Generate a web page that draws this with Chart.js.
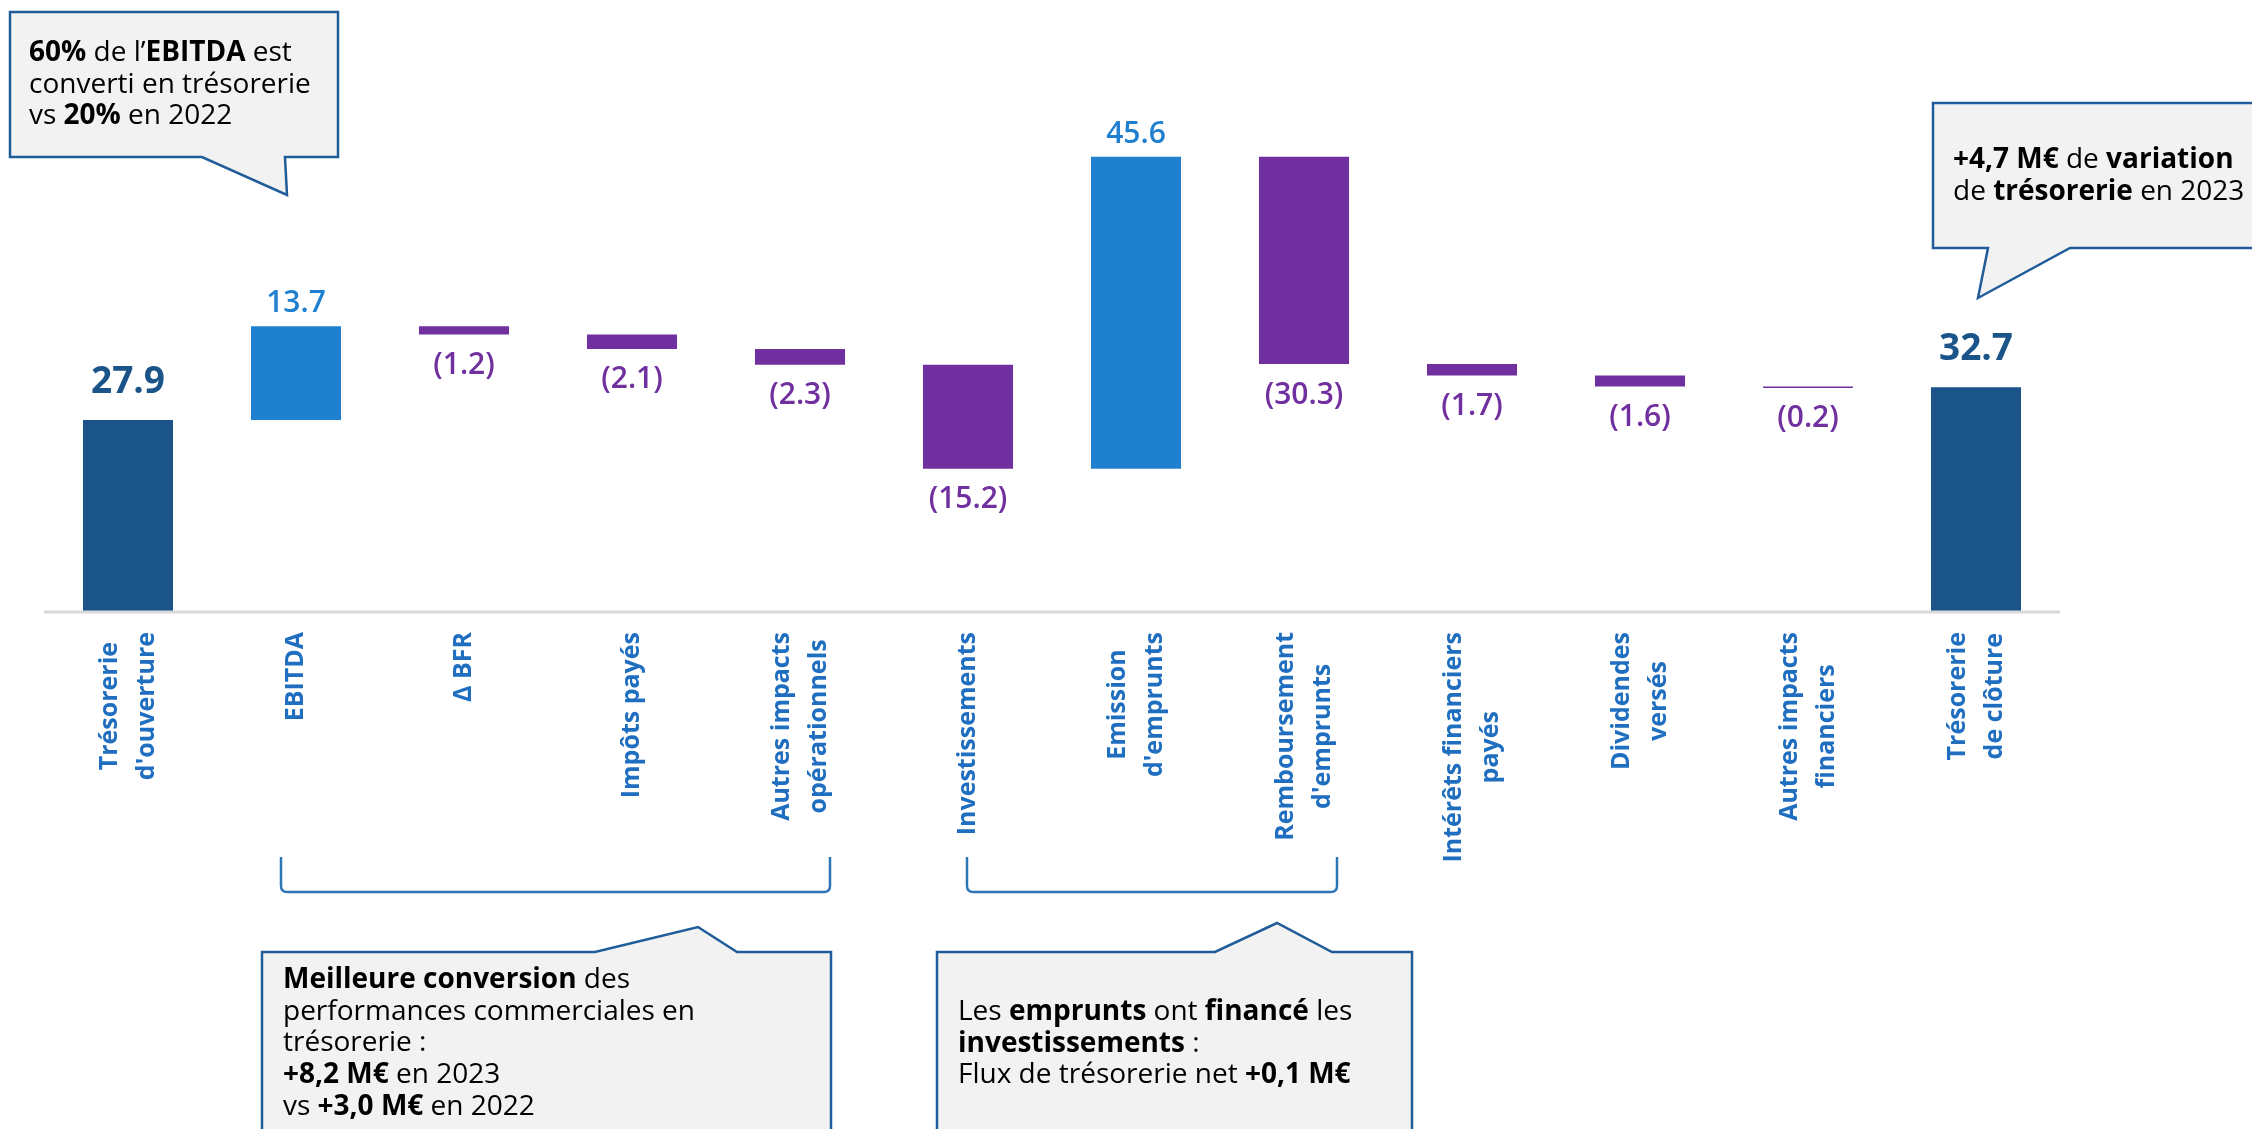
<!DOCTYPE html>
<html lang="fr">
<head>
<meta charset="utf-8">
<title>Flux de trésorerie 2023</title>
<script src="https://cdn.jsdelivr.net/npm/chart.js@4/dist/chart.umd.min.js"></script>
<style>
    html, body { margin: 0; padding: 0; background: #fff; }
    #wrap { width: 2252px; height: 1129px; position: relative; }
</style>
</head>
<body>
<div id="wrap"><canvas id="cashChart"></canvas></div>
<script>
// Data
const categories = [
    ['Trésorerie', "d'ouverture"],
    ['EBITDA'],
    ['Δ BFR'],
    ['Impôts payés'],
    ['Autres impacts', 'opérationnels'],
    ['Investissements'],
    ['Emission', "d'emprunts"],
    ['Remboursement', "d'emprunts"],
    ['Intérêts financiers', 'payés'],
    ['Dividendes', 'versés'],
    ['Autres impacts', 'financiers'],
    ['Trésorerie', 'de clôture']
];
const values = [27.9, 13.7, -1.2, -2.1, -2.3, -15.2, 45.6, -30.3, -1.7, -1.6, -0.2, 32.7];
const isTotal = [true, false, false, false, false, false, false, false, false, false, false, true];
const yMin = 0;
const yMax = 70;

// Colours
const COL_TOTAL = '#1A5488';
const COL_UP = '#2080D0';
const COL_DOWN = '#7030A0';
const COL_AXIS_TXT = '#1F6EBF';
const COL_BOX = '#1F5C99';
const FONT = '"Open Sans", "Noto Sans", sans-serif';

// Build floating ranges for the waterfall
let running = 0;
const ranges = values.map((v, i) => {
    if (isTotal[i]) {
        running = v;
        return [0, v];
    }
    const r = [running, running + v];
    running += v;
    return r;
});
const barColors = values.map((v, i) => isTotal[i] ? COL_TOTAL : (v >= 0 ? COL_UP : COL_DOWN));

// Callout texts: each line is a list of [text, bold]
const calloutTopLeft = [
    [['60%', true], [' de l’', false], ['EBITDA', true], [' est', false]],
    [['converti en trésorerie', false]],
    [['vs ', false], ['20%', true], [' en 2022', false]]
];
const calloutTopRight = [
    [['+4,7 M€', true], [' de ', false], ['variation', true]],
    [['de ', false], ['trésorerie', true], [' en 2023', false]]
];
const calloutOps = [
    [['Meilleure conversion', true], [' des', false]],
    [['performances commerciales en', false]],
    [['trésorerie :', false]],
    [['+8,2 M€', true], [' en 2023', false]],
    [['vs ', false], ['+3,0 M€', true], [' en 2022', false]]
];
const calloutLoans = [
    [['Les ', false], ['emprunts', true], [' ont ', false], ['financé', true], [' les', false]],
    [['investissements', true], [' :', false]],
    [['Flux de trésorerie net ', false], ['+0,1 M€', true]]
];

function drawRich(ctx, lines, x, y0, lineH, size) {
    ctx.fillStyle = '#000';
    ctx.textAlign = 'left';
    ctx.textBaseline = 'alphabetic';
    lines.forEach((runs, li) => {
        let cx = x;
        runs.forEach(([t, b]) => {
            ctx.font = (b ? '700 ' : '400 ') + size + 'px ' + FONT;
            ctx.fillText(t, cx, y0 + li * lineH);
            cx += ctx.measureText(t).width;
        });
    });
}

function drawShape(ctx, pts) {
    ctx.beginPath();
    ctx.moveTo(pts[0][0], pts[0][1]);
    pts.slice(1).forEach(p => ctx.lineTo(p[0], p[1]));
    ctx.closePath();
    ctx.fillStyle = '#F2F2F2';
    ctx.fill();
    ctx.lineWidth = 2.5;
    ctx.strokeStyle = COL_BOX;
    ctx.stroke();
}

function drawBracket(ctx, x1, x2, yTop, yBot) {
    const r = 6;
    ctx.beginPath();
    ctx.moveTo(x1, yTop);
    ctx.lineTo(x1, yBot - r);
    ctx.quadraticCurveTo(x1, yBot, x1 + r, yBot);
    ctx.lineTo(x2 - r, yBot);
    ctx.quadraticCurveTo(x2, yBot, x2, yBot - r);
    ctx.lineTo(x2, yTop);
    ctx.lineWidth = 2.5;
    ctx.strokeStyle = '#2E75B6';
    ctx.stroke();
}

// Everything that is not a bar: axis line, values, category labels, callouts
const decorPlugin = {
    id: 'decor',
    afterDatasetsDraw(chart) {
        const ctx = chart.ctx;
        const xs = chart.scales.x;
        const ys = chart.scales.y;
        const area = chart.chartArea;
        const meta = chart.getDatasetMeta(0);
        ctx.save();

        // x axis line
        ctx.strokeStyle = '#D9D9D9';
        ctx.lineWidth = 3;
        ctx.beginPath();
        ctx.moveTo(area.left, area.bottom + 1);
        ctx.lineTo(area.right, area.bottom + 1);
        ctx.stroke();

        // value labels
        values.forEach((v, i) => {
            const bar = meta.data[i];
            const top = ys.getPixelForValue(Math.max(ranges[i][0], ranges[i][1]));
            const bottom = ys.getPixelForValue(Math.min(ranges[i][0], ranges[i][1]));
            ctx.textAlign = 'center';
            if (isTotal[i]) {
                ctx.font = '700 37px ' + FONT;
                ctx.fillStyle = COL_TOTAL;
                ctx.textBaseline = 'alphabetic';
                ctx.fillText(v.toFixed(1), bar.x, top - 27);
            } else if (v >= 0) {
                ctx.font = '600 30px ' + FONT;
                ctx.fillStyle = COL_UP;
                ctx.textBaseline = 'alphabetic';
                ctx.fillText(v.toFixed(1), bar.x, top - 14);
            } else {
                ctx.font = '600 30px ' + FONT;
                ctx.fillStyle = COL_DOWN;
                ctx.textBaseline = 'top';
                ctx.fillText('(' + Math.abs(v).toFixed(1) + ')', bar.x, bottom + 16);
            }
        });

        // category labels, rotated, lines centred, block starting under the axis
        const lineH = 37;
        const labelTop = area.bottom + 21;
        ctx.font = '700 25px ' + FONT;
        ctx.fillStyle = COL_AXIS_TXT;
        ctx.textAlign = 'center';
        ctx.textBaseline = 'middle';
        categories.forEach((lines, i) => {
            const cx = xs.getPixelForValue(i);
            const maxW = Math.max(...lines.map(l => ctx.measureText(l).width));
            lines.forEach((line, li) => {
                const off = (li - (lines.length - 1) / 2) * lineH;
                ctx.save();
                ctx.translate(cx + off, labelTop + maxW / 2);
                ctx.rotate(-Math.PI / 2);
                ctx.fillText(line, 0, 0);
                ctx.restore();
            });
        });

        // brackets under the grouped categories
        drawBracket(ctx, xs.getPixelForValue(1) - 15, xs.getPixelForValue(4) + 30, 857, 892);
        drawBracket(ctx, xs.getPixelForValue(5) - 1, xs.getPixelForValue(7) + 33, 857, 892);

        // callouts
        drawShape(ctx, [[10, 12], [338, 12], [338, 157], [285, 157], [287, 195], [202, 157], [10, 157]]);
        drawRich(ctx, calloutTopLeft, 29, 61, 31.5, 28);

        drawShape(ctx, [[1933, 103], [2262, 103], [2262, 248], [2070, 248], [1978, 298], [1988, 248], [1933, 248]]);
        drawRich(ctx, calloutTopRight, 1953, 168, 32, 28);

        drawShape(ctx, [[262, 952], [595, 952], [698, 927], [737, 952], [831, 952], [831, 1140], [262, 1140]]);
        drawRich(ctx, calloutOps, 283, 988, 31.7, 28);

        drawShape(ctx, [[937, 952], [1215, 952], [1277, 923], [1332, 952], [1412, 952], [1412, 1140], [937, 1140]]);
        drawRich(ctx, calloutLoans, 958, 1020, 31.7, 28);

        ctx.restore();
    }
};

const ctx = document.getElementById('cashChart').getContext('2d');
const cashChart = new Chart(ctx, {
    type: 'bar',
    data: {
        labels: categories.map(l => l.join(' ')),
        datasets: [{
            data: ranges,
            backgroundColor: barColors,
            borderWidth: 0,
            barPercentage: 0.536,
            categoryPercentage: 1
        }]
    },
    options: {
        responsive: true,
        maintainAspectRatio: false,
        animation: false,
        layout: {
            padding: { left: 44, right: 192, top: 132, bottom: 518 }
        },
        scales: {
            x: { display: false },
            y: { display: false, min: yMin, max: yMax }
        },
        plugins: {
            legend: { display: false },
            tooltip: { enabled: false }
        }
    },
    plugins: [decorPlugin]
});
</script>
</body>
</html>
